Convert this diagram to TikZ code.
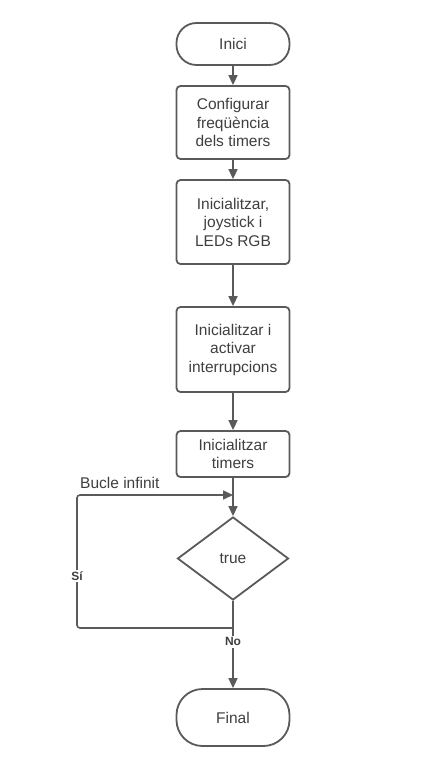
\documentclass[tikz,border=0pt]{standalone}
\usepackage{fontspec}
\setmainfont{Liberation Sans}
\usetikzlibrary{shapes.geometric,arrows.meta}
\definecolor{ln}{HTML}{5A5A5A}
\definecolor{tx}{HTML}{3F3F3F}
\tikzset{
  box/.style={draw=ln, line width=1.8pt, rounded corners=4pt, minimum width=113pt, inner sep=0pt, align=center, text=tx, font=\fontsize{15.5}{18.5}\selectfont},
  term/.style={box, rounded corners=20pt},
  dec/.style={draw=ln, line width=1.8pt, diamond, minimum width=111pt, minimum height=83pt, inner sep=0pt, text=tx, font=\fontsize{15.5}{18.5}\selectfont},
  conn/.style={draw=ln, line width=1.6pt, -{Triangle[length=10pt,width=9pt]}},
  lbl/.style={fill=white, inner sep=1.5pt, text=tx, font=\fontsize{12}{13}\selectfont\bfseries}
}
\begin{document}
\begin{tikzpicture}[x=1pt,y=-1pt]
\useasboundingbox[fill=white] (0,0) rectangle (444,783);
\node[term, minimum height=42pt] (inici) at (233,44) {Inici};
\node[box, minimum height=73pt] (b1) at (233,122.5) {Configurar\\freqüència\\dels timers};
\node[box, minimum height=84pt] (b2) at (233,222) {Inicialitzar,\\joystick i\\LEDs RGB};
\node[box, minimum height=85pt] (b3) at (233,349.5) {Inicialitzar i\\activar\\interrupcions};
\node[box, minimum height=46pt] (b4) at (233,454) {Inicialitzar\\timers};
\node[dec] (d) at (233,558.5) {true};
\node[term, minimum height=57pt, rounded corners=26pt] (fin) at (233,717.5) {Final};
\coordinate (c1) at (233,628);
\coordinate (c2) at (233,495);
\coordinate (lb) at (77,628);
\coordinate (lt) at (77,495);
\draw[conn] (inici) -- (b1);
\draw[conn] (b1) -- (b2);
\draw[conn] (b2) -- (b3);
\draw[conn] (b3) -- (b4);
\draw[conn] (b4) -- (d);
\draw[conn] (d) -- (fin) node[lbl, pos=0.47] (no) {No};
\draw[conn, rounded corners=3pt] (c1) -- (lb) -- (lt) -- (c2);
\node[lbl] (si) at (77,576) {Sí};
\node[anchor=west, inner sep=0pt, text=tx, font=\fontsize{15.5}{18.5}\selectfont] (bucle) at (80,483) {Bucle infinit};
\end{tikzpicture}
\end{document}
